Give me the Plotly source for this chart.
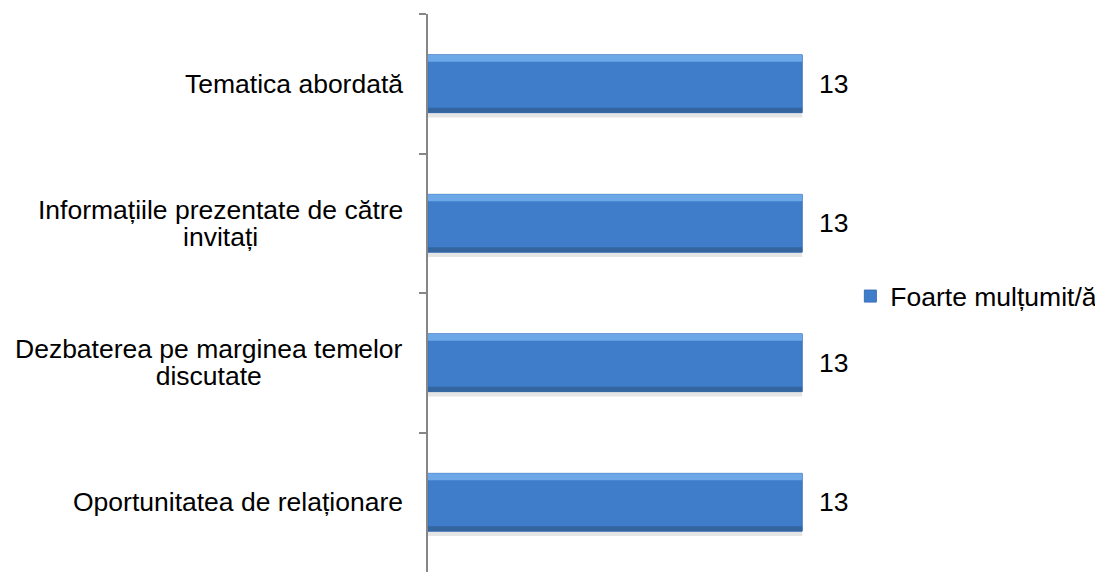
import plotly.graph_objects as go

# data
categories = [
    "Tematica abordată",
    "Informațiile prezentate de către<br>invitați",
    "Dezbaterea pe marginea temelor<br>discutate",
    "Oportunitatea de relaționare",
]
values = [13, 13, 13, 13]
series_name = "Foarte mulțumit/ă"

FONT = "Liberation Sans, Arial, sans-serif"
FS = 26.5
BW = 0.414  # bar thickness in category units

fig = go.Figure()

# soft shadow under each bar
fig.add_trace(go.Bar(
    y=categories, x=values, orientation="h", width=BW, offset=-BW / 2 + 0.035,
    marker=dict(color="rgba(0,0,0,0.10)", line_width=0),
    showlegend=False, hoverinfo="skip",
))
# main bar
fig.add_trace(go.Bar(
    y=categories, x=values, orientation="h", width=BW, offset=-BW / 2,
    name=series_name,
    marker=dict(color="#3F7DCB", line=dict(color="#3A70B5", width=1)),
))
# top highlight (bevel)
fig.add_trace(go.Bar(
    y=categories, x=values, orientation="h", width=0.05, offset=-BW / 2,
    marker=dict(color="#6CA8E8", line_width=0),
    showlegend=False, hoverinfo="skip",
))
# bottom darker edge
fig.add_trace(go.Bar(
    y=categories, x=values, orientation="h", width=0.035, offset=BW / 2 - 0.035,
    marker=dict(color="#35659F", line_width=0),
    showlegend=False, hoverinfo="skip",
))

# category labels: centered lines, block right-aligned next to the axis.
# smaller base font keeps line spacing tight, spans enlarge the glyphs
for cat in categories:
    txt = "<br>".join(
        f"<span style='font-size:{FS}px'>{ln}</span>" for ln in cat.split("<br>")
    )
    fig.add_annotation(
        x=0, xref="paper", y=cat, yref="y", text=txt, showarrow=False,
        xanchor="right", yanchor="middle", align="center", xshift=-23,
        font=dict(family=FONT, size=20.5, color="#000000"),
    )

# value labels
for cat, v in zip(categories, values):
    fig.add_annotation(
        x=v, y=cat, text=str(v), showarrow=False,
        xanchor="left", yanchor="middle", xshift=15,
        font=dict(family=FONT, size=FS, color="#000000"),
    )

# page body has an 8px margin, so the figure is 8px smaller each way
fig.update_layout(
    width=1095, height=564,
    margin=dict(l=420, r=272, t=6, b=0),
    barmode="overlay",
    plot_bgcolor="white", paper_bgcolor="white",
    font=dict(family=FONT, size=FS, color="#000000"),
    showlegend=True,
    legend=dict(x=1.048, y=0.494, xanchor="left", yanchor="middle",
                font=dict(family=FONT, size=FS), itemwidth=30,
                bgcolor="rgba(0,0,0,0)"),
    xaxis=dict(range=[0, 14], visible=False, fixedrange=True),
    yaxis=dict(
        autorange="reversed", showticklabels=False,
        showline=True, linecolor="#868686", linewidth=2,
        ticks="outside", tickson="boundaries", ticklen=7,
        tickcolor="#868686", tickwidth=2, showgrid=False, zeroline=False,
    ),
)

fig.write_html("out.html")
